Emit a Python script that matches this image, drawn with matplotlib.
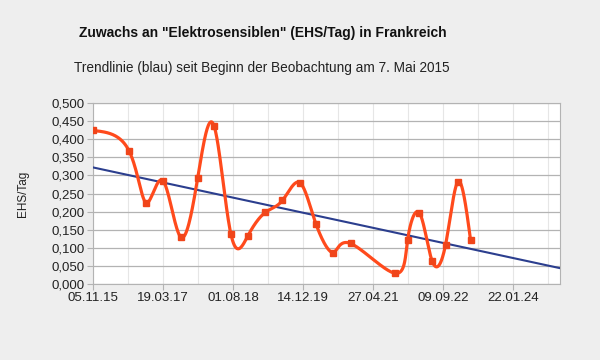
import numpy as np
import matplotlib
matplotlib.use("Agg")
import matplotlib.pyplot as plt
import matplotlib.dates as mdates
from matplotlib.ticker import FixedLocator, FuncFormatter

plt.rcParams['font.family'] = ['Liberation Sans', 'DejaVu Sans']

# ---- data ----
dates = ["2015-11-05", "2016-07-19", "2016-11-20", "2017-03-19", "2017-07-23",
         "2017-11-22", "2018-03-18", "2018-07-16", "2018-11-16", "2019-03-20",
         "2019-07-20", "2019-11-20", "2020-03-14", "2020-07-15", "2020-11-17",
         "2021-09-27", "2021-12-29", "2022-03-24", "2022-06-22", "2022-09-26",
         "2022-12-25", "2023-03-24"]
values = [0.424, 0.368, 0.224, 0.285, 0.130, 0.294, 0.437, 0.139, 0.134, 0.198,
          0.231, 0.280, 0.167, 0.087, 0.112, 0.030, 0.121, 0.196, 0.064, 0.108,
          0.283, 0.121]
trend_dates = ["2015-11-05", "2024-12-20"]
trend_values = [0.322, 0.044]
tick_dates = ["2015-11-05", "2017-03-19", "2018-08-01", "2019-12-14",
              "2021-04-27", "2022-09-09", "2024-01-22"]
minor_dates = ["2016-07-13", "2017-11-24", "2019-04-08", "2020-08-20",
               "2022-01-02", "2023-05-17", "2024-09-29"]
x_end = "2024-12-20"
title = 'Zuwachs an "Elektrosensiblen" (EHS/Tag) in Frankreich'
subtitle = "Trendlinie (blau) seit Beginn der Beobachtung am 7. Mai 2015"
ylabel = "EHS/Tag"


def to_num(ds):
    return mdates.date2num(np.array(ds, dtype="datetime64[D]"))


def natural_coeffs(t, y):
    N = len(t)
    h = np.diff(t)
    A = np.zeros((N, N)); b = np.zeros(N)
    A[0, 0] = 1; A[-1, -1] = 1
    for i in range(1, N - 1):
        A[i, i - 1] = h[i - 1]
        A[i, i] = 2 * (h[i - 1] + h[i])
        A[i, i + 1] = h[i]
        b[i] = 6 * ((y[i + 1] - y[i]) / h[i] - (y[i] - y[i - 1]) / h[i - 1])
    return np.linalg.solve(A, b)


def eval_spline(t, y, M, n=40):
    out = []
    h = np.diff(t)
    for i in range(len(t) - 1):
        u = np.linspace(t[i], t[i + 1], n, endpoint=(i == len(t) - 2))
        a = t[i + 1] - u; c = u - t[i]
        s = (M[i] * a**3 + M[i + 1] * c**3) / (6 * h[i]) \
            + (y[i] / h[i] - M[i] * h[i] / 6) * a \
            + (y[i + 1] / h[i] - M[i + 1] * h[i] / 6) * c
        out.append(s)
    return np.concatenate(out)


def parametric_spline(x, y):
    """Parametric natural cubic spline with uniform parameter (as LibreOffice draws it)."""
    x = np.asarray(x, float); y = np.asarray(y, float)
    t = np.arange(len(x), dtype=float)
    xs = eval_spline(t, x, natural_coeffs(t, x))
    ys = eval_spline(t, y, natural_coeffs(t, y))
    return xs, ys


xd = to_num(dates)
x0 = to_num(["2015-11-05"])[0]
x1 = to_num([x_end])[0]

fig = plt.figure(figsize=(6, 3.6), dpi=100, facecolor="#eeeeee")
ax = fig.add_axes([0.155, 0.211, 0.778, 0.503])
ax.set_facecolor("white")

xs, ys = parametric_spline(xd, values)

ax.plot(to_num(trend_dates), trend_values, color="#2b3e8e", lw=1.5, zorder=3)
ax.plot(xs, ys, color="#ff4a1c", lw=2.3, zorder=4, solid_capstyle="round")
ax.plot(xd, values, ls="none", marker="s", ms=5, color="#f0451a", zorder=5)

ax.set_xlim(x0, x1)
ax.set_ylim(0, 0.5)
ax.set_yticks(np.arange(0, 0.5001, 0.05))
ax.yaxis.set_major_formatter(FuncFormatter(lambda v, p: f"{v:.3f}".replace(".", ",")))
ax.xaxis.set_major_locator(FixedLocator(to_num(tick_dates)))
ax.xaxis.set_minor_locator(FixedLocator(to_num(minor_dates)))
ax.xaxis.set_major_formatter(mdates.DateFormatter("%d.%m.%y"))

ax.grid(axis="y", color="#b3b3b3", lw=0.9)
ax.grid(axis="x", which="both", color="#e6e6e6", lw=0.8)
ax.set_axisbelow(True)
for s in ax.spines.values():
    s.set_color("#b3b3b3")
ax.tick_params(axis="both", which="major", color="#b3b3b3", length=4,
               labelsize=9.5, labelcolor="#222222", pad=2)
ax.tick_params(axis="x", which="minor", length=0)

ax.set_ylabel(ylabel, fontsize=8.5, color="#222222", labelpad=16)

fig.text(0.438, 0.908, title, ha="center", va="center", fontsize=10,
         fontweight="bold", color="#111111")
fig.text(0.437, 0.81, subtitle, ha="center", va="center", fontsize=9.8,
         color="#222222")

fig.savefig("out.png", dpi=100, facecolor=fig.get_facecolor())
